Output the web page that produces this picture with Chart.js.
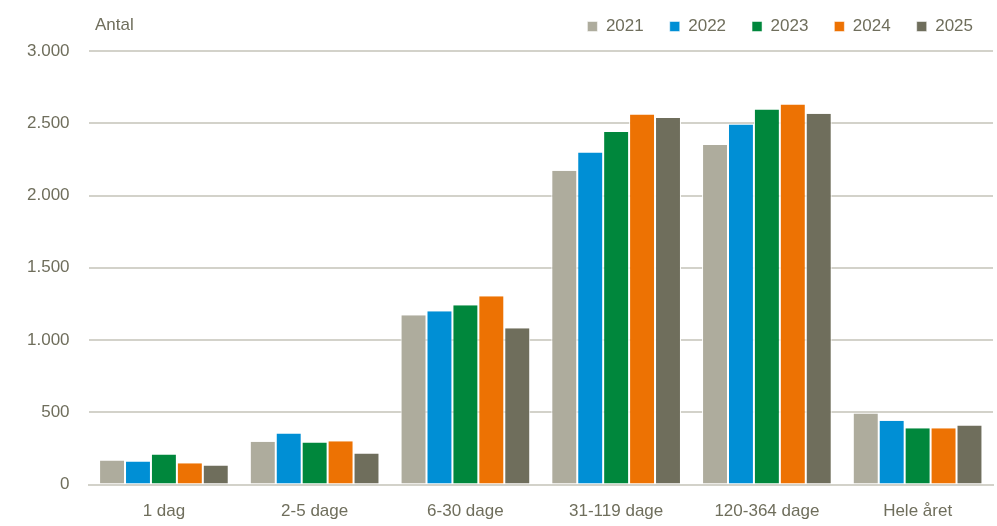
<!DOCTYPE html>
<html>
<head>
<meta charset="utf-8">
<script src="https://cdn.jsdelivr.net/npm/chart.js@4.4.0/dist/chart.umd.min.js"></script>
<style>
    html, body { margin: 0; padding: 0; background: #fff; }
    #wrap { width: 997px; height: 526px; }
</style>
</head>
<body>
<div id="wrap"><canvas id="myChart"></canvas></div>
<script>
// ---- data ----
const categories = ["1 dag", "2-5 dage", "6-30 dage", "31-119 dage", "120-364 dage", "Hele året"];
const years = ["2021", "2022", "2023", "2024", "2025"];
const v2021 = [166, 296, 1172, 2171, 2350, 492];
const v2022 = [160, 354, 1200, 2298, 2492, 442];
const v2023 = [208, 291, 1241, 2439, 2595, 390];
const v2024 = [148, 300, 1304, 2561, 2630, 390];
const v2025 = [132, 215, 1082, 2536, 2566, 409];
const yTicks = [0, 500, 1000, 1500, 2000, 2500, 3000];

const colors = ["#AEAC9D", "#008FD5", "#00873C", "#ED7203", "#6F6E5C"];
const textColor = "#6F6E5C";
const gridColor = "#D3D2CA";
const fontFamily = "'Liberation Sans', Arial, sans-serif";
const fontSize = 17;

const series = [v2021, v2022, v2023, v2024, v2025];

// "Antal" label above the y axis
const unitLabel = {
    id: 'unitLabel',
    afterDraw(chart) {
        const ctx = chart.ctx;
        ctx.save();
        ctx.fillStyle = textColor;
        ctx.font = fontSize + "px " + fontFamily;
        ctx.textBaseline = 'middle';
        ctx.textAlign = 'left';
        ctx.fillText("Antal", 95, 25);
        ctx.restore();
    }
};

// legend a bit taller (plot starts lower) and nudged right
const legendTweak = {
    id: 'legendTweak',
    beforeInit(chart) {
        const origFit = chart.legend.fit;
        chart.legend.fit = function () {
            origFit.bind(chart.legend)();
            this.height += 6;
        };
    },
    afterLayout(chart) {
        chart.legend.left += 6;
        chart.legend.right += 6;
    }
};

function fmt(v) {
    return v.toString().replace(/\B(?=(\d{3})+(?!\d))/g, ".");
}

const ctx = document.getElementById("myChart").getContext("2d");
new Chart(ctx, {
    type: "bar",
    data: {
        labels: categories,
        datasets: years.map((y, i) => ({
            label: y,
            data: series[i],
            backgroundColor: colors[i],
            borderColor: "#ffffff",
            borderWidth: { left: 1, right: 1, top: 0, bottom: 0 },
            borderSkipped: false,
            categoryPercentage: 0.86,
            barPercentage: 1.0
        }))
    },
    options: {
        responsive: true,
        maintainAspectRatio: false,
        animation: false,
        layout: { padding: { left: 8, right: 4, top: -8, bottom: -13 } },
        plugins: {
            legend: {
                position: 'top',
                align: 'end',
                labels: {
                    color: textColor,
                    font: { family: fontFamily, size: fontSize },
                    boxWidth: 10,
                    boxHeight: 10,
                    padding: 26
                }
            },
            tooltip: { enabled: false }
        },
        scales: {
            x: {
                grid: { display: false, drawTicks: false },
                border: { display: true, color: gridColor, width: 2 },
                ticks: {
                    color: textColor,
                    font: { family: fontFamily, size: fontSize },
                    padding: 17
                }
            },
            y: {
                min: 0,
                max: 3000,
                afterBuildTicks: (axis) => { axis.ticks = yTicks.map(v => ({ value: v })); },
                grid: { color: gridColor, lineWidth: 2, drawTicks: false },
                border: { display: false },
                ticks: {
                    color: textColor,
                    font: { family: fontFamily, size: fontSize },
                    padding: 19,
                    callback: (v) => fmt(v)
                }
            }
        }
    },
    plugins: [unitLabel, legendTweak]
});
</script>
</body>
</html>
